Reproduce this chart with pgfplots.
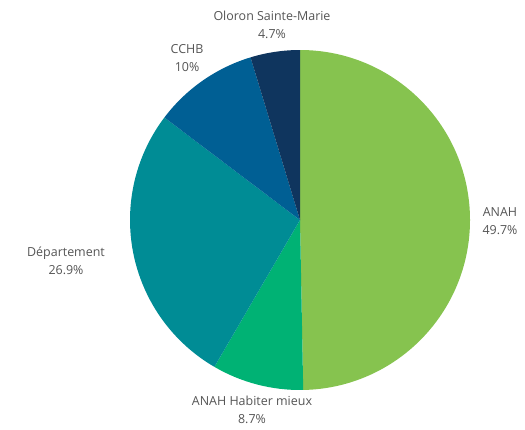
\documentclass[border=0pt]{standalone}
\usepackage{pgfplots}
\pgfplotsset{compat=1.18}
\usepackage{pgfplotstable}
\usepackage{fontspec}
\setmainfont{Open Sans}
\definecolor{cAnah}{HTML}{86C34F}
\definecolor{cHab}{HTML}{00B274}
\definecolor{cDep}{HTML}{008C95}
\definecolor{cCchb}{HTML}{005F94}
\definecolor{cOlo}{HTML}{0F355E}
\definecolor{lbl}{HTML}{555555}

% value in %, label centre in axis units (1 unit = 1bp, pie radius 170)
\pgfplotstableread[col sep=comma]{
name,value,colour,lx,ly
ANAH,49.7,cAnah,200,-1
ANAH Habiter mieux,8.7,cHab,-48,-190
Département,26.9,cDep,-234,-41
CCHB,10,cCchb,-113,162
Oloron Sainte-Marie,4.7,cOlo,-28,195
}\piedata

\begin{document}
\begin{tikzpicture}
\begin{axis}[
    hide axis, scale only axis,
    x=1bp, y=1bp,
    xmin=-300, xmax=225, ymin=-209, ymax=220,
    clip=false,
]
\path (rel axis cs:0,0) rectangle (rel axis cs:1,1);
\pgfplotstablegetrowsof{\piedata}
\pgfmathtruncatemacro\nrows{\pgfplotsretval-1}
\def\startangle{90}
\pgfplotsforeachungrouped \i in {0,...,\nrows}{%
  \pgfplotstablegetelem{\i}{value}\of\piedata \let\val\pgfplotsretval
  \pgfplotstablegetelem{\i}{colour}\of\piedata \let\col\pgfplotsretval
  \pgfplotstablegetelem{\i}{name}\of\piedata \let\nm\pgfplotsretval
  \pgfplotstablegetelem{\i}{lx}\of\piedata \let\lx\pgfplotsretval
  \pgfplotstablegetelem{\i}{ly}\of\piedata \let\ly\pgfplotsretval
  \pgfmathsetmacro\endangle{\startangle-3.6*\val}%
  \pgfmathsetmacro\sx{170*cos(\startangle)}%
  \pgfmathsetmacro\sy{170*sin(\startangle)}%
  \edef\temp{\noexpand\fill[\col] (axis cs:0,0) -- (axis cs:\sx,\sy)
    arc[start angle=\startangle, end angle=\endangle, radius=170bp] -- cycle;
    \noexpand\node[align=center, text=lbl, inner sep=0pt,
      font=\noexpand\fontsize{12.5}{18}\noexpand\selectfont]
      at (axis cs:\lx,\ly) {\nm\noexpand\\\val\noexpand\%};}%
  \temp
  \let\startangle\endangle
}
\end{axis}
\end{tikzpicture}
\end{document}
